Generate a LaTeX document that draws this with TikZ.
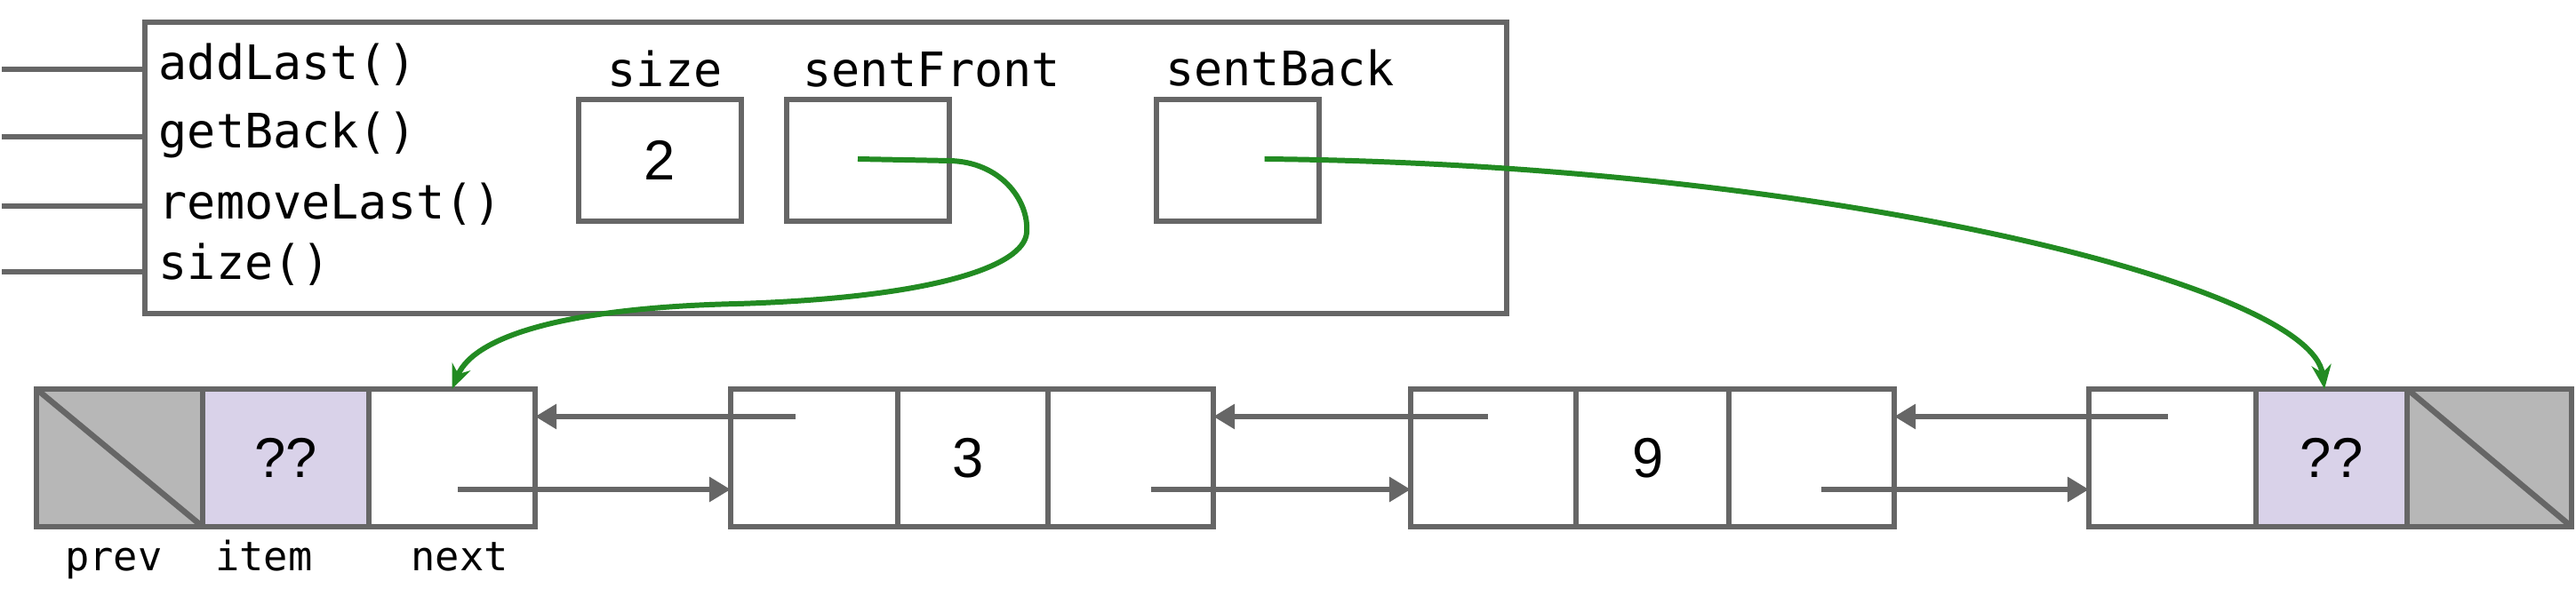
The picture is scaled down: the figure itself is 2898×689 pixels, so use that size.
\documentclass[tikz,border=0pt]{standalone}
\usepackage{fontspec}
\setmainfont{Liberation Sans}
\setmonofont{DejaVu Sans Mono}
\usetikzlibrary{arrows.meta}
\definecolor{dgray}{HTML}{666666}
\definecolor{lgray}{HTML}{B7B7B7}
\definecolor{lpurple}{HTML}{D9D2E9}
\definecolor{ptrgreen}{HTML}{228B22}

\begin{document}
\begin{tikzpicture}[x=0.01cm,y=-0.01cm,
  cell/.style={draw=dgray,line width=1.85pt,inner sep=0pt,outer sep=0pt,minimum height=1.55cm,font=\fontsize{18}{21}\selectfont},
  field/.style={draw=dgray,line width=1.85pt,inner sep=0pt,outer sep=0pt,minimum width=1.83cm,minimum height=1.37cm,font=\fontsize{18}{21}\selectfont},
  meth/.style={inner sep=0pt,anchor=base west,font=\ttfamily\fontsize{15.2}{17}\selectfont},
  fname/.style={inner sep=0pt,anchor=base,font=\ttfamily\fontsize{15.2}{17}\selectfont},
  lbl/.style={inner sep=0pt,anchor=base,font=\ttfamily\fontsize{12.9}{15}\selectfont},
  stub/.style={dgray,line width=1.75pt},
  link/.style={dgray,line width=1.85pt,-{Triangle[length=0.24cm,width=0.27cm]}},
  ptr/.style={ptrgreen,line width=1.7pt,-{Stealth[length=0.27cm,width=0.22cm]}}]
\useasboundingbox (0,0) rectangle (2898,689);

% the deque object
\node[draw=dgray,line width=1.7pt,inner sep=0pt,outer sep=0pt,minimum width=15.32cm,minimum height=3.28cm] (deque) at (929,189) {};
\foreach \dy in {53,129,207,281}
  \draw[stub] ([yshift=-\dy*0.01cm]deque.north west) -- ++(-161,0);
\node[meth] (addlast) at (178,90) {addLast()};
\node[meth] (getback) at (178,167) {getBack()};
\node[meth] (removelast) at (178,247) {removeLast()};
\node[meth] (sizem) at (178,315) {size()};

\node[fname] (sizelbl) at (748,98) {size};
\node[fname] (sflbl) at (1048,98) {sentFront};
\node[fname] (sblbl) at (1440,97) {sentBack};
\node[field] (sizebox) at (742.5,180.5) {2};
\node[field] (sfbox) at (976.5,180.5) {};
\node[field] (sbbox) at (1392.5,180.5) {};

% sentinel front
\node[cell,fill=lgray,minimum width=1.87cm] (sfprev) at (134.5,515.5) {};
\draw[dgray,line width=1.85pt] (sfprev.north west) -- (sfprev.south east);
\node[cell,fill=lpurple,minimum width=1.87cm] (sfitem) at (321.5,515.5) {??};
\node[cell,minimum width=1.87cm] (sfnext) at (508.5,515.5) {};
\node[lbl] (prevlbl) at (128,643) {prev};
\node[lbl] (itemlbl) at (297,643) {item};
\node[lbl] (nextlbl) at (517,643) {next};

% node 3
\node[cell,minimum width=1.88cm] (tprev) at (916,515.5) {};
\node[cell,minimum width=1.69cm] (titem) at (1094.5,515.5) {\hspace*{-0.1cm}3};
\node[cell,minimum width=1.86cm] (tnext) at (1272,515.5) {};

% node 9
\node[cell,minimum width=1.86cm] (nprev) at (1680,515.5) {};
\node[cell,minimum width=1.72cm] (nitem) at (1859,515.5) {\hspace*{-0.1cm}9};
\node[cell,minimum width=1.86cm] (nnext) at (2038,515.5) {};

% sentinel back
\node[cell,minimum width=1.88cm] (sbprev) at (2444,515.5) {};
\node[cell,fill=lpurple,minimum width=1.70cm] (sbitem) at (2623,515.5) {??};
\node[cell,fill=lgray,minimum width=1.85cm] (sbnext) at (2800.5,515.5) {};
\draw[dgray,line width=1.85pt] (sbnext.north west) -- (sbnext.south east);

% links
\draw[link] ([xshift=0.065cm,yshift=-0.355cm]sfnext.center) -- ([yshift=-0.355cm]tprev.west);
\draw[link] ([xshift=-0.21cm,yshift=0.465cm]tprev.center) -- ([yshift=0.465cm]sfnext.east);
\draw[link] ([xshift=0.23cm,yshift=-0.355cm]tnext.center) -- ([yshift=-0.355cm]nprev.west);
\draw[link] ([xshift=-0.06cm,yshift=0.465cm]nprev.center) -- ([yshift=0.465cm]tnext.east);
\draw[link] ([xshift=0.11cm,yshift=-0.355cm]nnext.center) -- ([yshift=-0.355cm]sbprev.west);
\draw[link] ([xshift=-0.05cm,yshift=0.465cm]sbprev.center) -- ([yshift=0.465cm]nnext.east);

% sentinel pointers
\draw[ptr] ([xshift=-0.115cm,yshift=0.015cm]sfbox.center) -- (1068,181)
  .. controls (1125,182) and (1158,225) .. (1155,262)
  .. controls (1152,300) and (1050,335) .. (830,342)
  .. controls (650,346) and (535,375) .. (sfnext.north);
\draw[ptr] ([xshift=0.3cm,yshift=0.015cm]sbbox.center)
  .. controls (2050,185) and (2600,320) .. ([xshift=-0.08cm]sbitem.north);
\end{tikzpicture}
\end{document}
